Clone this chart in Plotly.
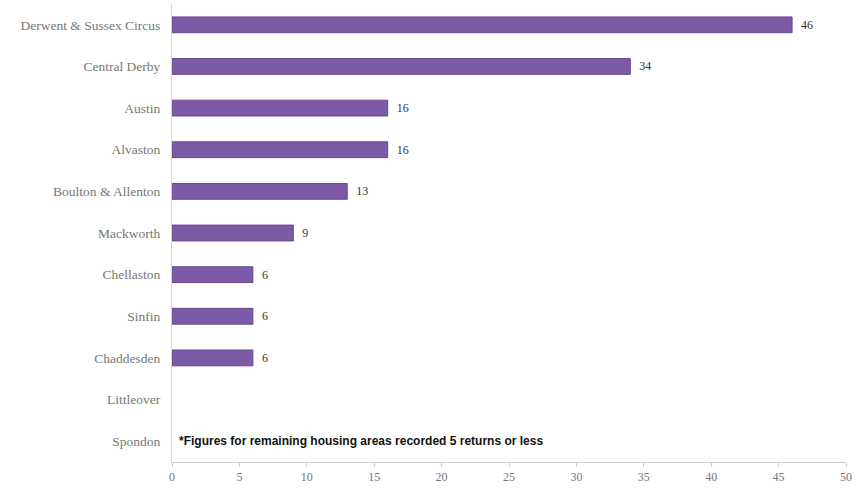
import plotly.graph_objects as go

# Housing areas, top to bottom as displayed
areas = [
    "Derwent & Sussex Circus",
    "Central Derby",
    "Austin",
    "Alvaston",
    "Boulton & Allenton",
    "Mackworth",
    "Chellaston",
    "Sinfin",
    "Chaddesden",
    "Littleover",
    "Spondon",
]
returns = [46, 34, 16, 16, 13, 9, 6, 6, 6, None, None]
x_ticks = [0, 5, 10, 15, 20, 25, 30, 35, 40, 45, 50]
note = "*Figures for remaining housing areas recorded 5 returns or less"

labels = ["" if v is None else "  " + str(v) for v in returns]

fig = go.Figure(
    go.Bar(
        y=areas,
        x=returns,
        orientation="h",
        width=0.38,
        marker=dict(color="#7b5aa6", line=dict(color="#67488f", width=1)),
        text=labels,
        textposition="outside",
        textfont=dict(family="Liberation Serif", size=12, color="#333333"),
        cliponaxis=False,
    )
)

fig.add_annotation(
    x=0.4, y=areas[-1], xref="x", yref="y",
    text="<b>" + note + "</b>", showarrow=False, xanchor="left", yanchor="middle",
    font=dict(family="Liberation Sans Narrow, Liberation Sans", size=12, color="#111111"),
)

fig.update_layout(
    width=856, height=489,
    margin=dict(l=172, r=8, t=4, b=27),
    paper_bgcolor="white", plot_bgcolor="white",
    showlegend=False,
    bargap=0.6,
)
fig.update_xaxes(
    range=[0, 50], tickvals=x_ticks, showgrid=False, zeroline=False,
    showline=True, linecolor="#d0d0d0", linewidth=1,
    ticks="outside", ticklen=4, tickcolor="#d0d0d0",
    tickfont=dict(family="Liberation Serif", size=12, color="#777777"),
)
fig.update_yaxes(
    categoryorder="array", categoryarray=areas[::-1],
    showgrid=False, zeroline=False,
    showline=True, linecolor="#d8d8d8", linewidth=1,
    ticks="", ticklabelstandoff=8,
    tickfont=dict(family="Liberation Serif", size=13.5, color="#777777"),
)

fig.write_html("out.html")
